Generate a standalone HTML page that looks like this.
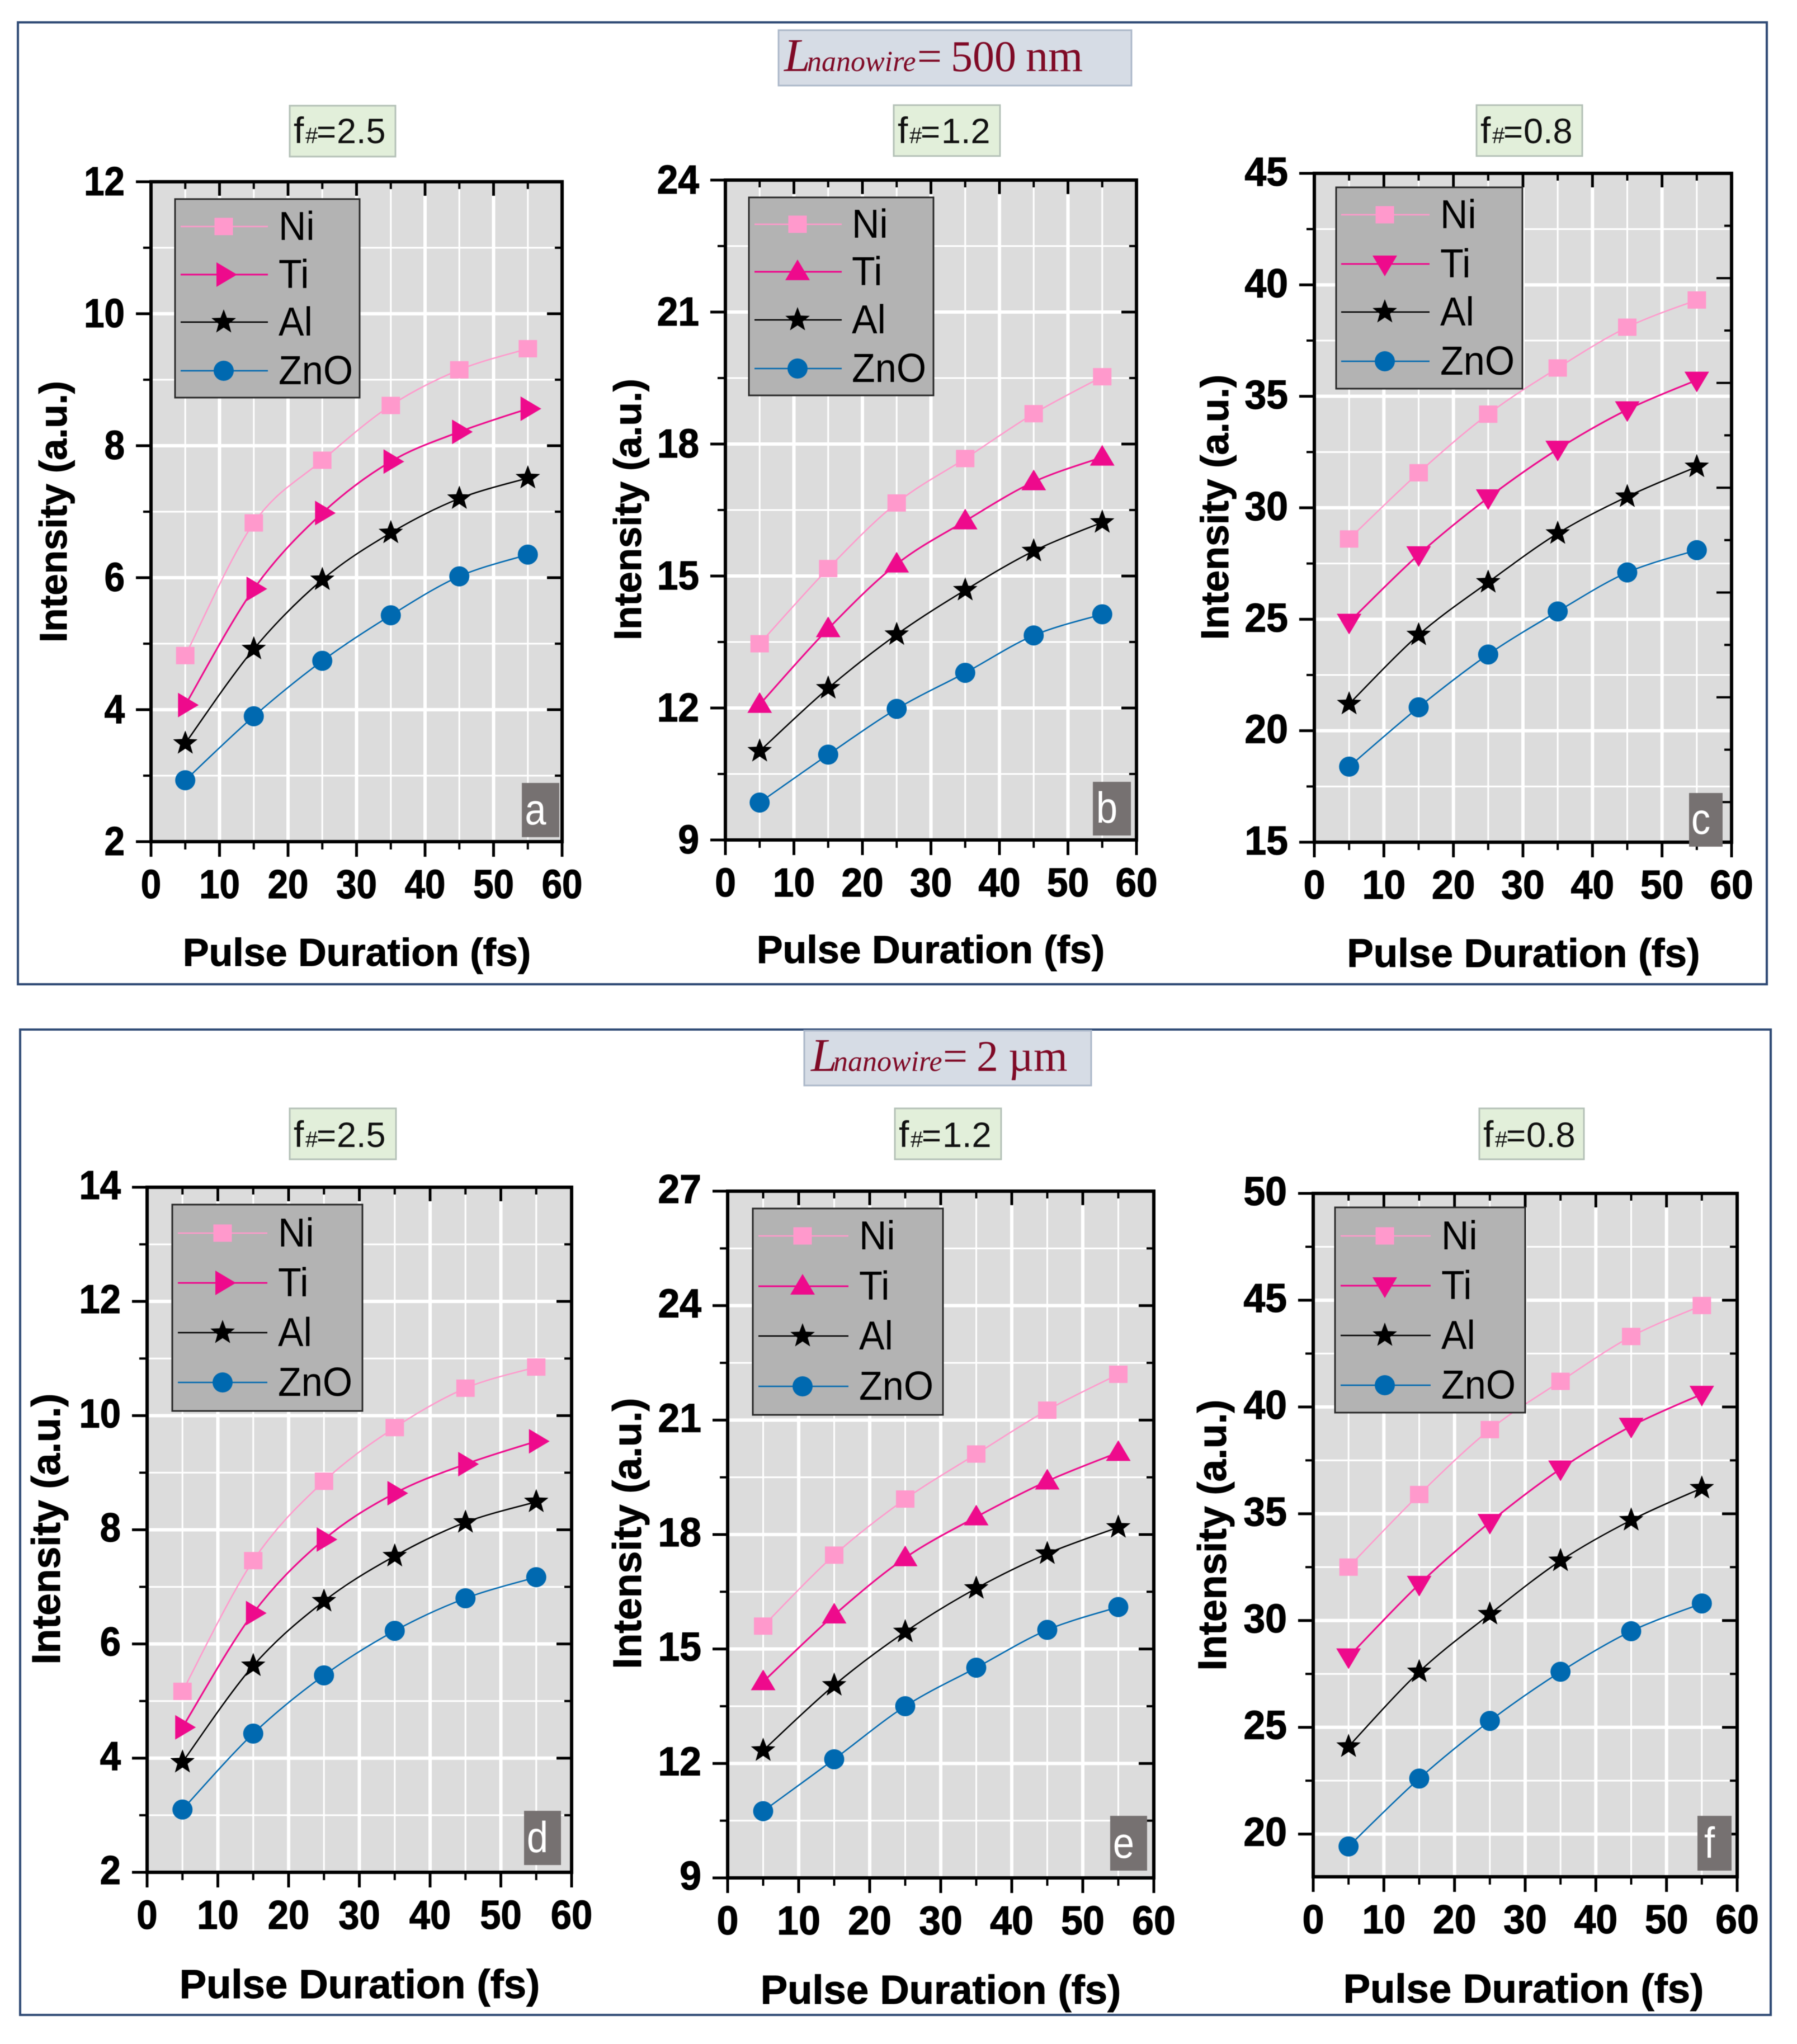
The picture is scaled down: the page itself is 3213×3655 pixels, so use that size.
<!DOCTYPE html>
<html lang="en">
<head>
<meta charset="utf-8">
<title>Intensity vs Pulse Duration</title>
<style>
html,body{margin:0;padding:0;background:#fff}
svg{display:block;filter:blur(0.7px)}
text{font-family:"Liberation Sans",sans-serif}
.serif{font-family:"Liberation Serif",serif;fill:#7f0a26}
.fn{fill:#111}
</style>
</head>
<body>
<svg id="figure" xmlns="http://www.w3.org/2000/svg" width="3213" height="3655" viewBox="0 0 3213 3655">
<rect x="0" y="0" width="3213" height="3655" fill="#ffffff"/>
<rect x="32" y="40" width="3127" height="1720" fill="none" stroke="#2f4a75" stroke-width="4"/>
<rect x="36" y="1841" width="3130" height="1762" fill="none" stroke="#2f4a75" stroke-width="4"/>

<g>
<rect x="1392" y="54" width="631" height="99" fill="#d6dce5" stroke="#adb9ca" stroke-width="3"/>
<text class="serif" y="127"><tspan x="1402" font-size="84" font-style="italic">L</tspan><tspan x="1443" font-size="52" font-style="italic">nanowire</tspan><tspan x="1640" font-size="78">=</tspan><tspan x="1700" font-size="78">500</tspan><tspan x="1834" font-size="80">nm</tspan></text>
</g>
<g>
<rect x="1438" y="1843" width="513" height="98" fill="#d6dce5" stroke="#adb9ca" stroke-width="3"/>
<text class="serif" y="1915"><tspan x="1450" font-size="84" font-style="italic">L</tspan><tspan x="1490" font-size="52" font-style="italic">nanowire</tspan><tspan x="1686" font-size="78">=</tspan><tspan x="1746" font-size="78">2</tspan><tspan x="1803" font-size="78">µm</tspan></text>
</g>

<g id="fnumbers">
<g><rect x="518" y="189" width="189" height="91" fill="#e2efda" stroke="#b5c2b8" stroke-width="3"/><text class="fn" y="256"><tspan x="525" font-size="66">f</tspan><tspan x="546" font-size="40">#</tspan><tspan x="566" font-size="60">=</tspan><tspan x="602" font-size="63">2.5</tspan></text></g>
<g><rect x="1598" y="188" width="190" height="91" fill="#e2efda" stroke="#b5c2b8" stroke-width="3"/><text class="fn" y="256"><tspan x="1605" font-size="66">f</tspan><tspan x="1626" font-size="40">#</tspan><tspan x="1646" font-size="60">=</tspan><tspan x="1683" font-size="63">1.2</tspan></text></g>
<g><rect x="2640" y="188" width="189" height="91" fill="#e2efda" stroke="#b5c2b8" stroke-width="3"/><text class="fn" y="256"><tspan x="2647" font-size="66">f</tspan><tspan x="2668" font-size="40">#</tspan><tspan x="2688" font-size="60">=</tspan><tspan x="2724" font-size="63">0.8</tspan></text></g>
<g><rect x="518" y="1982" width="190" height="91" fill="#e2efda" stroke="#b5c2b8" stroke-width="3"/><text class="fn" y="2051"><tspan x="525" font-size="66">f</tspan><tspan x="546" font-size="40">#</tspan><tspan x="566" font-size="60">=</tspan><tspan x="602" font-size="63">2.5</tspan></text></g>
<g><rect x="1600" y="1982" width="190" height="91" fill="#e2efda" stroke="#b5c2b8" stroke-width="3"/><text class="fn" y="2051"><tspan x="1607" font-size="66">f</tspan><tspan x="1628" font-size="40">#</tspan><tspan x="1648" font-size="60">=</tspan><tspan x="1685" font-size="63">1.2</tspan></text></g>
<g><rect x="2645" y="1982" width="187" height="91" fill="#e2efda" stroke="#b5c2b8" stroke-width="3"/><text class="fn" y="2051"><tspan x="2652" font-size="66">f</tspan><tspan x="2673" font-size="40">#</tspan><tspan x="2693" font-size="60">=</tspan><tspan x="2729" font-size="63">0.8</tspan></text></g>
</g>
</svg>

<script>
// ---- data ----
const xValues = [5, 15, 25, 35, 45, 55];
const xTickValues = [0, 10, 20, 30, 40, 50, 60];
const seriesNames = ['Ni', 'Ti', 'Al', 'ZnO'];

const aNi = [4.82, 6.83, 7.78, 8.61, 9.15, 9.47];
const aTi = [4.07, 5.83, 6.98, 7.76, 8.21, 8.56];
const aAl = [3.49, 4.92, 5.97, 6.68, 7.20, 7.51];
const aZnO = [2.93, 3.90, 4.74, 5.43, 6.02, 6.35];
const aYTicks = [2, 4, 6, 8, 10, 12];

const bNi = [13.46, 15.17, 16.66, 17.67, 18.69, 19.53];
const bTi = [12.08, 13.80, 15.27, 16.25, 17.14, 17.70];
const bAl = [11.02, 12.45, 13.67, 14.68, 15.57, 16.22];
const bZnO = [9.85, 10.94, 11.98, 12.80, 13.65, 14.13];
const bYTicks = [9, 12, 15, 18, 21, 24];

const cNi = [28.6, 31.57, 34.2, 36.27, 38.1, 39.32];
const cTi = [24.87, 27.9, 30.45, 32.63, 34.4, 35.73];
const cAl = [21.2, 24.3, 26.66, 28.85, 30.5, 31.84];
const cZnO = [18.39, 21.05, 23.42, 25.35, 27.1, 28.1];
const cYTicks = [15, 20, 25, 30, 35, 40, 45];

const dNi = [5.17, 7.46, 8.85, 9.79, 10.48, 10.85];
const dTi = [4.54, 6.54, 7.83, 8.64, 9.15, 9.55];
const dAl = [3.93, 5.62, 6.75, 7.54, 8.13, 8.49];
const dZnO = [3.10, 4.43, 5.45, 6.23, 6.80, 7.17];
const dYTicks = [2, 4, 6, 8, 10, 12, 14];

const eNi = [15.6, 17.46, 18.93, 20.11, 21.26, 22.2];
const eTi = [14.14, 15.89, 17.39, 18.46, 19.4, 20.15];
const eAl = [12.34, 14.05, 15.45, 16.59, 17.5, 18.19];
const eZnO = [10.75, 12.11, 13.5, 14.51, 15.5, 16.1];
const eYTicks = [9, 12, 15, 18, 21, 24, 27];

const fNi = [32.5, 35.9, 38.94, 41.2, 43.3, 44.75];
const fTi = [28.3, 31.7, 34.6, 37.1, 39.1, 40.6];
const fAl = [24.1, 27.6, 30.3, 32.8, 34.7, 36.2];
const fZnO = [19.42, 22.6, 25.3, 27.6, 29.5, 30.8];
const fYTicks = [20, 25, 30, 35, 40, 45, 50];

// ---- layout ----
const panels = [
  {id:'a', x0:270,  x1:1005, top:325,  bottom:1505, yMin:2,  yMax:12, yTicks:aYTicks, series:[aNi,aTi,aAl,aZnO], ti:'right', tickScale:0.91, labelUp:0,
   lg:[313,356,643,711,[405,491,576,663],323,479,400,498], badge:[933,1400,1000,1497], yTitle:[119,915,69], xTitle:[638,1727,70]},
  {id:'b', x0:1297, x1:2032, top:322,  bottom:1502, yMin:9,  yMax:24, yTicks:bYTicks, series:[bNi,bTi,bAl,bZnO], ti:'up', tickScale:0.94, labelUp:0,
   lg:[1339,353,1669,707,[401,486,572,659],1349,1505,1426,1523], badge:[1954,1398,2022,1494], yTitle:[1146,911,69], xTitle:[1664,1722,70]},
  {id:'c', x0:2350, x1:3096, top:310,  bottom:1506, yMin:15, yMax:45, yTicks:cYTicks, series:[cNi,cTi,cAl,cZnO], ti:'down', rightStep:2.35, tickScale:0.97, labelUp:2,
   lg:[2389,335,2722,695,[384,472,558,646],2398,2556,2476,2575], badge:[3020,1418,3080,1514], yTitle:[2196,907,70], xTitle:[2724,1729,71]},
  {id:'d', x0:263,  x1:1022, top:2123, bottom:3348, yMin:2,  yMax:14, yTicks:dYTicks, series:[dNi,dTi,dAl,dZnO], ti:'right', tickScale:0.93, labelUp:3,
   lg:[308,2154,648,2523,[2205,2294,2383,2472],318,478,398,497], badge:[937,3238,1003,3335], yTitle:[107,2734,71.5], xTitle:[643,3573,72.5]},
  {id:'e', x0:1301, x1:2063, top:2130, bottom:3358, yMin:9,  yMax:27, yTicks:eYTicks, series:[eNi,eTi,eAl,eZnO], ti:'up', tickScale:0.97, labelUp:3,
   lg:[1346,2161,1686,2530,[2210,2300,2389,2479],1356,1517,1435,1536], badge:[1985,3247,2051,3345], yTitle:[1146,2742,71.5], xTitle:[1682,3583,72.5]},
  {id:'f', x0:2348, x1:3106, top:2134, bottom:3356, yMin:18, yMax:50, yTicks:fYTicks, series:[fNi,fTi,fAl,fZnO], ti:'down', tickScale:0.97, labelUp:3,
   lg:[2387,2159,2727,2526,[2210,2299,2388,2477],2397,2558,2476,2577], badge:[3035,3247,3096,3345], yTitle:[2192,2745,71.5], xTitle:[2724,3581,72.5]}
];

const seriesColors = ['#ff99cc', '#ee0a8c', '#000000', '#0069b0'];
const seriesWidths = [2.5, 3, 2.5, 2.5];
const NS = 'http://www.w3.org/2000/svg';
const svg = document.getElementById('figure');

function mk(tag, attrs, parent, txt) {
  const n = document.createElementNS(NS, tag);
  for (const k in attrs) n.setAttribute(k, attrs[k]);
  if (txt !== undefined) n.textContent = txt;
  parent.appendChild(n);
  return n;
}
function segLine(parent, x1, y1, x2, y2, color, w) {
  return mk('line', {x1:x1, y1:y1, x2:x2, y2:y2, stroke:color, 'stroke-width':w}, parent);
}
function smoothPath(pts) {
  let d = 'M' + pts[0][0].toFixed(1) + ' ' + pts[0][1].toFixed(1);
  for (let i = 0; i < pts.length - 1; i++) {
    const p0 = pts[Math.max(i - 1, 0)], p1 = pts[i], p2 = pts[i + 1], p3 = pts[Math.min(i + 2, pts.length - 1)];
    const c1x = p1[0] + (p2[0] - p0[0]) / 6, c1y = p1[1] + (p2[1] - p0[1]) / 6;
    const c2x = p2[0] - (p3[0] - p1[0]) / 6, c2y = p2[1] - (p3[1] - p1[1]) / 6;
    d += 'C' + c1x.toFixed(1) + ' ' + c1y.toFixed(1) + ' ' + c2x.toFixed(1) + ' ' + c2y.toFixed(1) + ' ' + p2[0].toFixed(1) + ' ' + p2[1].toFixed(1);
  }
  return d;
}
function starPoints(cx, cy, R) {
  const r = R * 0.42, out = [];
  for (let i = 0; i < 10; i++) {
    const a = -Math.PI / 2 + i * Math.PI / 5, q = i % 2 ? r : R;
    out.push((cx + q * Math.cos(a)).toFixed(1) + ',' + (cy + q * Math.sin(a)).toFixed(1));
  }
  return out.join(' ');
}
function drawMarker(parent, idx, cx, cy, tiShape) {
  const c = seriesColors[idx];
  if (idx === 0) return mk('rect', {x:cx - 16.5, y:cy - 15.5, width:33, height:31, fill:c}, parent);
  if (idx === 2) return mk('polygon', {points:starPoints(cx, cy, 23), fill:c}, parent);
  if (idx === 3) return mk('ellipse', {cx:cx, cy:cy, rx:18, ry:18, fill:c}, parent);
  let p;
  if (tiShape === 'right') p = [[cx - 13, cy - 22], [cx + 24, cy], [cx - 13, cy + 22]];
  else if (tiShape === 'up') p = [[cx - 22, cy + 15], [cx + 22, cy + 15], [cx, cy - 22]];
  else p = [[cx - 22, cy - 15], [cx + 22, cy - 15], [cx, cy + 22]];
  return mk('polygon', {points:p.map(q => q.join(',')).join(' '), fill:c}, parent);
}

panels.forEach(function (P) {
  const sx = v => P.x0 + (v - 0) / 60 * (P.x1 - P.x0);
  const sy = v => P.bottom - (v - P.yMin) / (P.yMax - P.yMin) * (P.bottom - P.top);

  const g = mk('g', {}, svg);
  
  

  const bg = mk('rect', {x:P.x0, y:P.top, width:P.x1 - P.x0, height:P.bottom - P.top, fill:'#dcdcdc'}, g);
  
  

  // minor y values sit midway between major ticks
  const yMinor = [];
  for (let i = 0; i < P.yTicks.length - 1; i++) yMinor.push((P.yTicks[i] + P.yTicks[i + 1]) / 2);
  const xMinor = xValues;

  // grid
  const grid = mk('g', {}, g);
  
  
  xTickValues.slice(1, -1).forEach(function (v) {
    const l = segLine(grid, sx(v), P.top, sx(v), P.bottom, '#ffffff', 6);
    
    
  });
  xMinor.forEach(function (v) {
    const l = segLine(grid, sx(v), P.top, sx(v), P.bottom, '#ffffff', 3);
    
    
  });
  P.yTicks.forEach(function (v) {
    const l = segLine(grid, P.x0, sy(v), P.x1, sy(v), '#ffffff', 6);
    
    
  });
  yMinor.forEach(function (v) {
    const l = segLine(grid, P.x0, sy(v), P.x1, sy(v), '#ffffff', 3);
    
    
  });

  // axes and ticks
  const axes = mk('g', {}, g);
  
  
  const frame = mk('rect', {x:P.x0, y:P.top, width:P.x1 - P.x0, height:P.bottom - P.top, fill:'none', stroke:'#000', 'stroke-width':6}, axes);
  
  

  xTickValues.forEach(function (v) {
    const b = segLine(axes, sx(v), P.bottom, sx(v), P.bottom + 27, '#000', 5);
    
    
    const t = segLine(axes, sx(v), P.top, sx(v), P.top + 25, '#000', 5);
    
    
    const lab = mk('text', {transform:'translate(' + sx(v) + ' ' + (P.bottom + 101) + ') scale(' + P.tickScale + ' 1)', 'font-size':72, 'font-weight':'bold', 'text-anchor':'middle', fill:'#000', stroke:'#000', 'stroke-width':1.2}, g, String(v));
    
    
  });
  xMinor.forEach(function (v) {
    const b = segLine(axes, sx(v), P.bottom, sx(v), P.bottom + 14, '#000', 4);
    
    
    const t = segLine(axes, sx(v), P.top, sx(v), P.top + 13, '#000', 4);
    
    
  });
  P.yTicks.forEach(function (v) {
    const l = segLine(axes, P.x0 - 27, sy(v), P.x0, sy(v), '#000', 5);
    
    
    const lab = mk('text', {transform:'translate(' + (P.x0 - 47) + ' ' + (sy(v) + 24 - P.labelUp) + ') scale(' + P.tickScale + ' 1)', 'font-size':72, 'font-weight':'bold', 'text-anchor':'end', fill:'#000', stroke:'#000', 'stroke-width':1.2}, g, String(v));
    
    
  });
  yMinor.forEach(function (v) {
    const l = segLine(axes, P.x0 - 14, sy(v), P.x0, sy(v), '#000', 4);
    
    
  });
  if (P.rightStep) {
    for (let k = 1; P.yMax - k * P.rightStep > P.yMin; k++) {
      const v = P.yMax - k * P.rightStep, len = k % 2 ? 13 : 27;
      const r = segLine(axes, P.x1 - len, sy(v), P.x1, sy(v), '#000', 4);
      
      
    }
  } else {
    P.yTicks.forEach(function (v) {
      const r = segLine(axes, P.x1 - 27, sy(v), P.x1, sy(v), '#000', 5);
      
      
    });
    yMinor.forEach(function (v) {
      const r = segLine(axes, P.x1 - 13, sy(v), P.x1, sy(v), '#000', 4);
      
      
    });
  }

  // series
  P.series.forEach(function (vals, i) {
    const sg = mk('g', {}, g);
    
    
    const pts = vals.map((v, j) => [sx(xValues[j]), sy(v)]);
    const line = mk('path', {d:smoothPath(pts), fill:'none', stroke:seriesColors[i], 'stroke-width':seriesWidths[i]}, sg);
    
    
    pts.forEach(function (p) {
      const m = drawMarker(sg, i, p[0], p[1], P.ti);
      
      
    });
  });

  // legend
  const L = P.lg;
  const lg = mk('g', {}, g);
  
  
  const box = mk('rect', {x:L[0], y:L[1], width:L[2] - L[0], height:L[3] - L[1], fill:'#b3b3b3', stroke:'#2b2b2b', 'stroke-width':3}, lg);
  
  
  seriesNames.forEach(function (name, i) {
    const y = L[4][i];
    const en = mk('g', {}, lg);
    
    
    const ln = segLine(en, L[5], y, L[6], y, seriesColors[i], seriesWidths[i]);
    
    
    const mr = drawMarker(en, i, L[7], y, P.ti);
    
    
    const tx = mk('text', {transform:'translate(' + L[8] + ' ' + (y + 24) + ') scale(0.95 1)', 'font-size':72, fill:'#000'}, en, name);
    
    
  });

  // panel letter badge
  const B = P.badge;
  const bd = mk('rect', {x:B[0], y:B[1], width:B[2] - B[0], height:B[3] - B[1], fill:'#767171'}, g);
  
  
  const bl = mk('text', {transform:'translate(' + ((B[0] + B[2]) / 2 - 9) + ' ' + (B[3] - 23) + ') scale(0.88 1)', 'font-size':78, 'text-anchor':'middle', fill:'#ffffff'}, g, P.id);
  
  

  // axis titles
  const yt = mk('text', {transform:'translate(' + P.yTitle[0] + ' ' + P.yTitle[1] + ') rotate(-90)', 'font-size':P.yTitle[2], 'font-weight':'bold', 'text-anchor':'middle', fill:'#000', stroke:'#000', 'stroke-width':1}, g, 'Intensity (a.u.)');
  
  
  const xt = mk('text', {x:P.xTitle[0], y:P.xTitle[1], 'font-size':P.xTitle[2], 'font-weight':'bold', 'text-anchor':'middle', fill:'#000', stroke:'#000', 'stroke-width':1}, g, 'Pulse Duration (fs)');
  
  
});
</script>
</body>
</html>
